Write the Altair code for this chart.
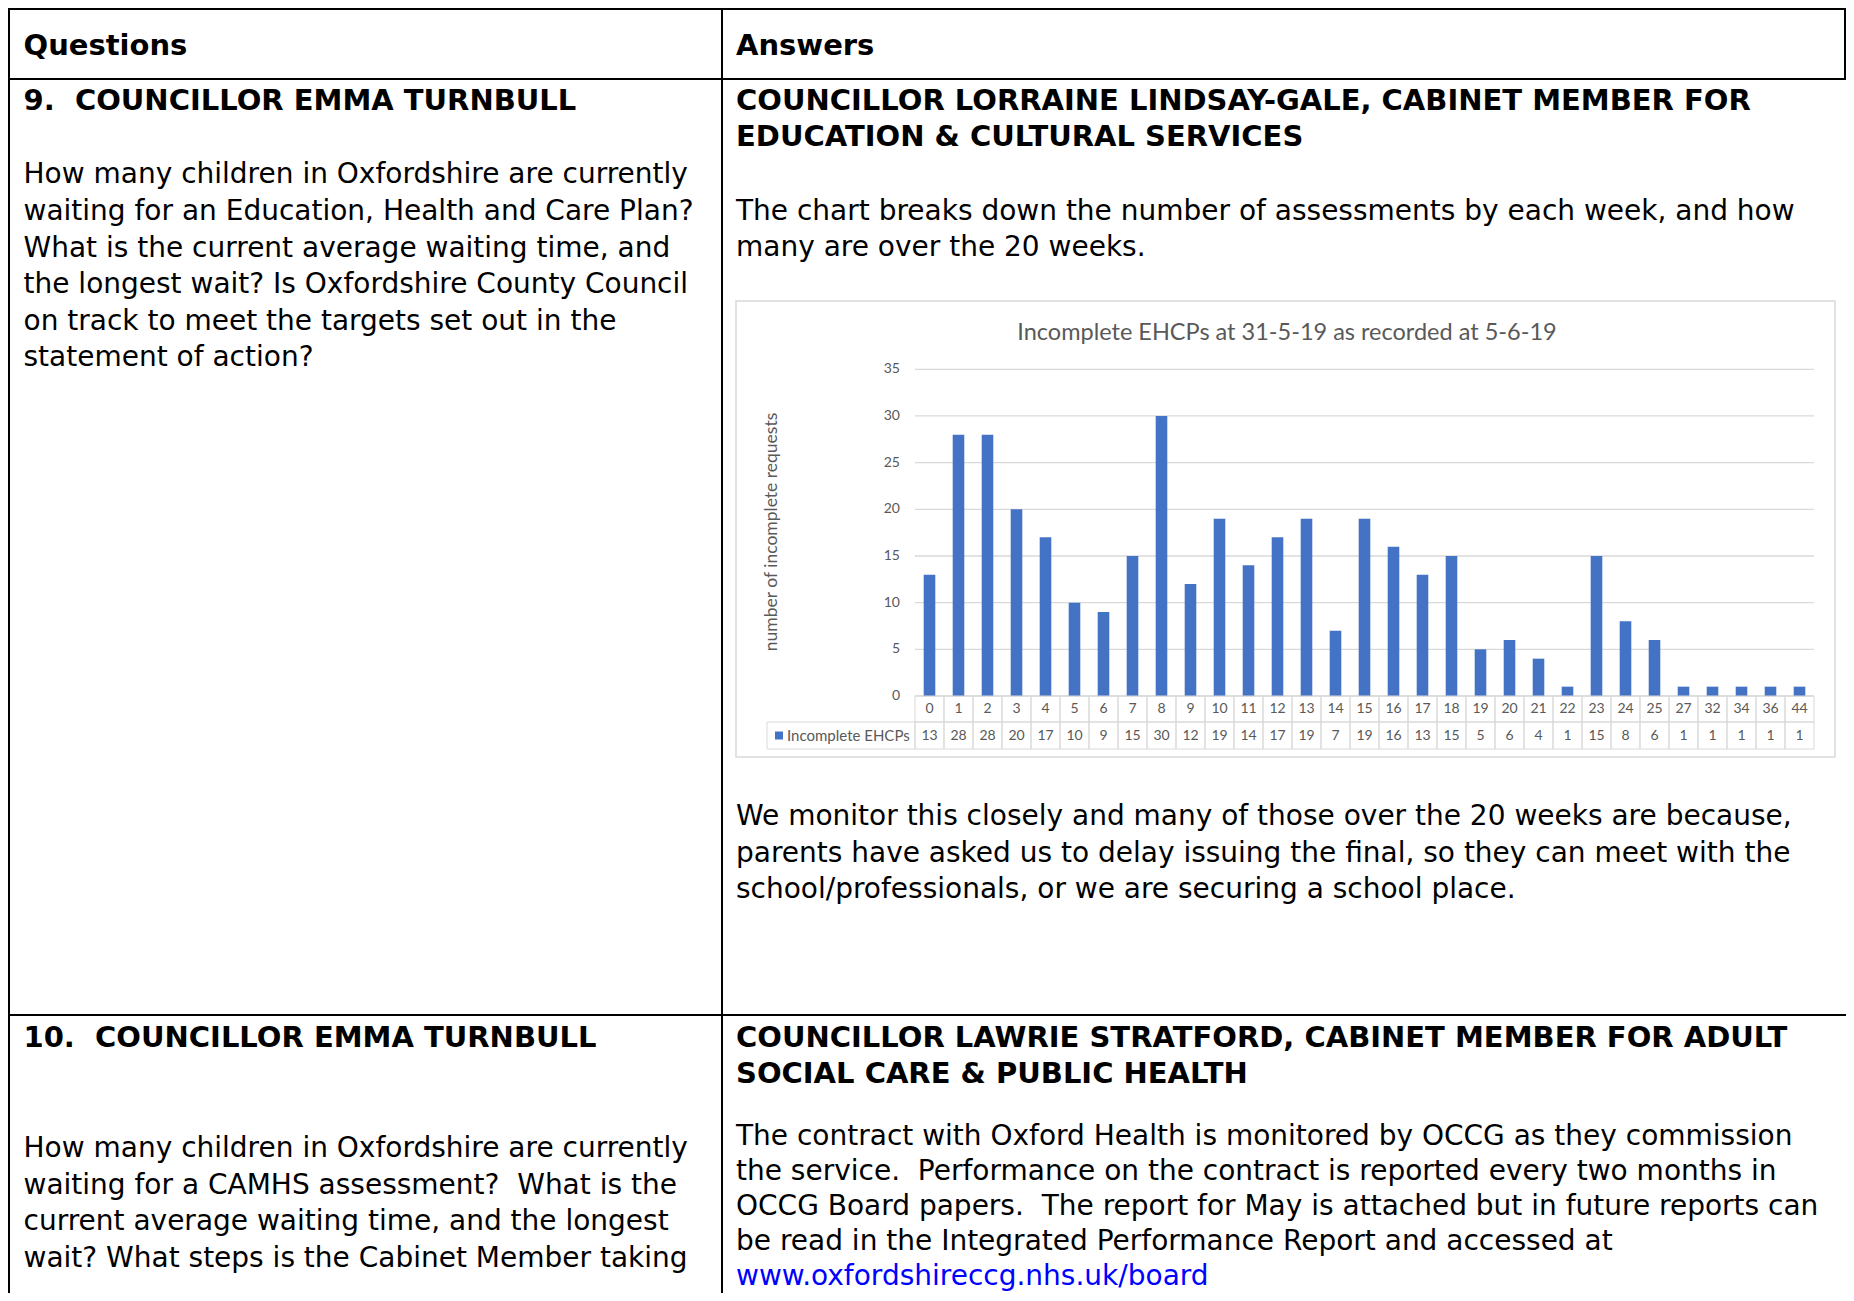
import altair as alt
import pandas as pd

# ---------------- chart data ----------------
weeks = ["0", "1", "2", "3", "4", "5", "6", "7", "8", "9", "10", "11", "12", "13",
         "14", "15", "16", "17", "18", "19", "20", "21", "22", "23", "24", "25",
         "27", "32", "34", "36", "44"]
counts = [13, 28, 28, 20, 17, 10, 9, 15, 30, 12, 19, 14, 17, 19, 7, 19, 16, 13,
          15, 5, 6, 4, 1, 15, 8, 6, 1, 1, 1, 1, 1]
y_ticks = [0, 5, 10, 15, 20, 25, 30, 35]
chart_title = "Incomplete EHCPs at 31-5-19 as recorded at 5-6-19"
y_title = "number of incomplete requests"
series_name = "Incomplete EHCPs"

# ---------------- document text ----------------
q_header = "Questions"
a_header = "Answers"
q9_title = "9.\u00a0 COUNCILLOR EMMA TURNBULL"
q9_body = [
    "How many children in Oxfordshire are currently",
    "waiting for an Education, Health and Care Plan?",
    "What is the current average waiting time, and",
    "the longest wait? Is Oxfordshire County Council",
    "on track to meet the targets set out in the",
    "statement of action?",
]
a9_title = ["COUNCILLOR LORRAINE LINDSAY-GALE, CABINET MEMBER FOR",
            "EDUCATION & CULTURAL SERVICES"]
a9_intro = ["The chart breaks down the number of assessments by each week, and how",
            "many are over the 20 weeks."]
a9_after = ["We monitor this closely and many of those over the 20 weeks are because,",
            "parents have asked us to delay issuing the final, so they can meet with the",
            "school/professionals, or we are securing a school place."]
q10_title = "10.\u00a0 COUNCILLOR EMMA TURNBULL"
q10_body = [
    "How many children in Oxfordshire are currently",
    "waiting for a CAMHS assessment?\u00a0 What is the",
    "current average waiting time, and the longest",
    "wait? What steps is the Cabinet Member taking",
]
a10_title = ["COUNCILLOR LAWRIE STRATFORD, CABINET MEMBER FOR ADULT",
             "SOCIAL CARE & PUBLIC HEALTH"]
a10_body = [
    "The contract with Oxford Health is monitored by OCCG as they commission",
    "the service.\u00a0 Performance on the contract is reported every two months in",
    "OCCG Board papers.\u00a0 The report for May is attached but in future reports can",
    "be read in the Integrated Performance Report and accessed at",
]
link_text = "www.oxfordshireccg.nhs.uk/board"

# ---------------- layout (page pixels) ----------------
W, H = 1838, 1285
M = 8


def px(v):
    return v - M


DOC_FONT = "DejaVu Sans"
DOC_SIZE = 28
BOLD_SIZE = 29
LINE = 36.6
LX, RX = 23.5, 736
DY = 2


def lines_at(texts, x, y0, step=LINE):
    return [{"x": px(x), "y": px(y0 + DY + i * step), "text": t} for i, t in enumerate(texts)]


A10_STEP = 35.0
bold_rows = (lines_at([q_header], LX, 43.7) + lines_at([a_header], RX, 43.7)
             + lines_at([q9_title], LX, 99.3) + lines_at(a9_title, RX, 99.3, 35.8)
             + lines_at([q10_title], LX, 1035.8) + lines_at(a10_title, RX, 1035.8, 36.2))
regular_rows = (lines_at(q9_body, LX, 173.4) + lines_at(a9_intro, RX, 209.6)
                + lines_at(a9_after, RX, 815) + lines_at(q10_body, LX, 1147)
                + lines_at(a10_body, RX, 1135, A10_STEP))
link_rows = lines_at([link_text], RX, 1135 + 4 * A10_STEP)

segments = [
    (8, 9, 1853, 9), (8, 79, 1853, 79), (8, 1015, 1853, 1015),
    (9, 8, 9, 1301), (722, 8, 722, 1301), (1845, 8, 1845, 80),
]
seg_rows = [{"x": px(a), "y": px(b), "x2": px(c), "y2": px(d)} for a, b, c, d in segments]

XNum = lambda f: alt.X(f, type="quantitative", scale=None, axis=None)
YNum = lambda f: alt.Y(f, type="quantitative", scale=None, axis=None)

table_lines = alt.Chart(pd.DataFrame(seg_rows)).mark_rule(color="black", strokeWidth=2).encode(
    x=XNum("x"), y=YNum("y"), x2="x2:Q", y2="y2:Q")

bold_text = alt.Chart(pd.DataFrame(bold_rows)).mark_text(
    align="left", baseline="middle", font=DOC_FONT, fontSize=BOLD_SIZE, fontWeight="bold",
    color="black").encode(x=XNum("x"), y=YNum("y"), text="text:N")
reg_text = alt.Chart(pd.DataFrame(regular_rows)).mark_text(
    align="left", baseline="middle", font=DOC_FONT, fontSize=DOC_SIZE,
    color="black").encode(x=XNum("x"), y=YNum("y"), text="text:N")
link = alt.Chart(pd.DataFrame(link_rows)).mark_text(
    align="left", baseline="middle", font=DOC_FONT, fontSize=DOC_SIZE,
    color="#0000FF").encode(x=XNum("x"), y=YNum("y"), text="text:N")

# ---------------- embedded chart ----------------
df = pd.DataFrame({"week": weeks, "count": counts})
grid = pd.DataFrame({"tick": y_ticks})
one = alt.Data(values=[{"t": chart_title, "yt": y_title, "s": series_name}])

X0, X1 = px(915), px(1814)
xs_bar = alt.Scale(domain=weeks, range=[X0, X1], paddingInner=0.6, paddingOuter=0.3)
xs_cell = alt.Scale(domain=weeks, range=[X0, X1], paddingInner=0, paddingOuter=0)
ys = alt.Scale(domain=[0, 35], range=[px(696), px(369.3)], nice=False)
GRAY = "#595959"
LINEGRAY = "#d9d9d9"
CF = "Lato"

frame = alt.Chart(one).mark_rect(fill="white", stroke=LINEGRAY, strokeWidth=1.5).encode(
    x=alt.value(px(736)), x2=alt.value(px(1835)), y=alt.value(px(301)), y2=alt.value(px(757)))

gridlines = alt.Chart(grid).mark_rule(color=LINEGRAY, strokeWidth=1.3).encode(
    y=alt.Y("tick:Q", scale=ys, axis=None), x=alt.value(X0), x2=alt.value(X1))

ylabels = alt.Chart(grid).mark_text(align="right", baseline="middle", font=CF, fontSize=14,
                                    color=GRAY).encode(
    y=alt.Y("tick:Q", scale=ys, axis=None), x=alt.value(px(900)), text="tick:Q")

bars = alt.Chart(df).mark_bar(color="#4472C4").encode(
    x=alt.X("week:O", scale=xs_bar, axis=None),
    y=alt.Y("count:Q", scale=ys, axis=None))

cells1 = alt.Chart(df).mark_rect(fillOpacity=0, stroke=LINEGRAY, strokeWidth=1).encode(
    x=alt.X("week:O", scale=xs_cell, axis=None), y=alt.value(px(696)), y2=alt.value(px(722)))
cells2 = alt.Chart(df).mark_rect(fillOpacity=0, stroke=LINEGRAY, strokeWidth=1).encode(
    x=alt.X("week:O", scale=xs_cell, axis=None), y=alt.value(px(722)), y2=alt.value(px(749)))
legend_cell = alt.Chart(one).mark_rect(fillOpacity=0, stroke=LINEGRAY, strokeWidth=1).encode(
    x=alt.value(px(767)), x2=alt.value(X0), y=alt.value(px(722)), y2=alt.value(px(749)))

cat_labels = alt.Chart(df).mark_text(align="center", baseline="middle", font=CF, fontSize=14,
                                     color=GRAY).encode(
    x=alt.X("week:O", scale=xs_cell, axis=None), y=alt.value(px(709)), text="week:N")
val_labels = alt.Chart(df).mark_text(align="center", baseline="middle", font=CF, fontSize=14,
                                     color=GRAY).encode(
    x=alt.X("week:O", scale=xs_cell, axis=None), y=alt.value(px(735.5)), text="count:Q")

legend_sq = alt.Chart(one).mark_square(size=64, color="#4472C4", filled=True, opacity=1).encode(
    x=alt.value(px(779)), y=alt.value(px(735.5)))
legend_txt = alt.Chart(one).mark_text(align="left", baseline="middle", font=CF, fontSize=15,
                                      color=GRAY).encode(
    x=alt.value(px(787)), y=alt.value(px(735.5)), text="s:N")

title = alt.Chart(one).mark_text(align="center", baseline="middle", font=CF, fontSize=23.5,
                                 color=GRAY).encode(
    x=alt.value(px(1287)), y=alt.value(px(333)), text="t:N")
ytitle = alt.Chart(one).mark_text(align="center", baseline="middle", font=CF, fontSize=17.5,
                                  angle=270, color=GRAY).encode(
    x=alt.value(px(772)), y=alt.value(px(532)), text="yt:N")

chart = alt.layer(
    table_lines, bold_text, reg_text, link,
    frame, gridlines, ylabels, bars, cells1, cells2, legend_cell,
    cat_labels, val_labels, legend_sq, legend_txt, title, ytitle,
).resolve_scale(x="independent", y="independent").properties(
    width=W, height=H, padding=0, autosize="none"
).configure_view(stroke=None).configure(background="white")

chart.save("out.html", embed_options={"renderer": "svg", "actions": False})
